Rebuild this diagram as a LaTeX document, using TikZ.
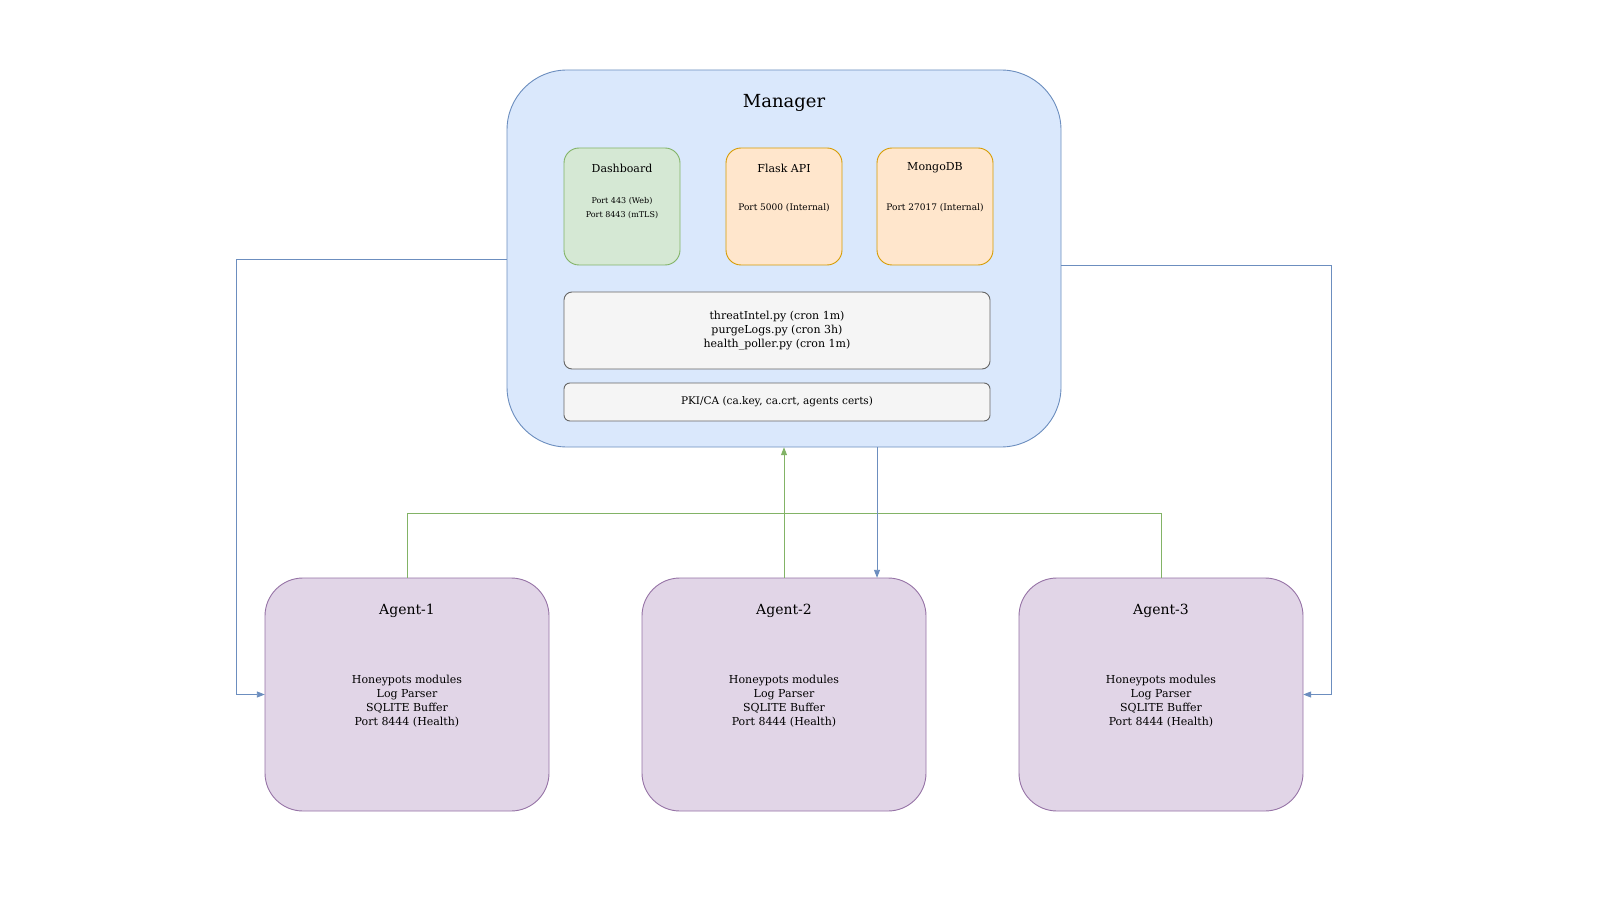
\documentclass[tikz,border=0pt]{standalone}
\usepackage{fontspec}
\setmainfont{DejaVu Serif}
\usetikzlibrary{arrows.meta}
\definecolor{bF}{HTML}{DAE8FC}\definecolor{bD}{HTML}{6C8EBF}
\definecolor{gF}{HTML}{D5E8D4}\definecolor{gD}{HTML}{82B366}
\definecolor{oF}{HTML}{FFE6CC}\definecolor{oD}{HTML}{D79B00}
\definecolor{hF}{HTML}{F5F5F5}\definecolor{hD}{HTML}{666666}
\definecolor{pF}{HTML}{E1D5E7}\definecolor{pD}{HTML}{9673A6}
\begin{document}
\begin{tikzpicture}[x=1pt,y=-1pt,
 box/.style={draw,line width=0.9pt,rounded corners=#1},
 lbl/.style={align=center,inner sep=0pt,text=black},
 con/.style={line width=0.9pt,-{Triangle[length=8pt,width=6pt]}}]
\path[fill=white] (0,0) rectangle (1601,901);
\useasboundingbox (0,0) rectangle (1601,901);
% manager
\draw[box=60pt,fill=bF,draw=bD] (507,70) rectangle (1061,447);
\node (mgr) at (784,258.5) [minimum width=554pt,minimum height=377pt,inner sep=0pt] {};
\node[lbl,font=\fontsize{18}{20}\selectfont] (mt) at (784,103) {Manager};
\foreach \n/\x/\f/\d in {dash/564/gF/gD,flask/726/oF/oD,mongo/877/oF/oD}
  \draw[box=15pt,fill=\f,draw=\d] (\x,148) rectangle ++(116,117);
\node[lbl,font=\fontsize{11}{12}\selectfont] (dt) at (622,168) {Dashboard};
\node[lbl,font=\fontsize{8}{13.5}\selectfont] (dp) at (622,208) {Port 443 (Web)\\Port 8443 (mTLS)};
\node[lbl,font=\fontsize{11}{12}\selectfont] (ft) at (784,168) {Flask API};
\node[lbl,font=\fontsize{9}{12}\selectfont] (fp) at (784,208) {Port 5000 (Internal)};
\node[lbl,font=\fontsize{11}{12}\selectfont] (mot) at (935,168) {MongoDB};
\node[lbl,font=\fontsize{9}{12}\selectfont] (mp) at (935,208) {Port 27017 (Internal)};
\draw[box=8pt,fill=hF,draw=hD] (564,292) rectangle (990,369);
\node[lbl,font=\fontsize{11}{14}\selectfont] (cron) at (777,330.5) {threatIntel.py (cron 1m)\\purgeLogs.py (cron 3h)\\health\_poller.py (cron 1m)};
\draw[box=6pt,fill=hF,draw=hD] (564,383) rectangle (990,421);
\node[lbl,font=\fontsize{10.5}{12}\selectfont] (pki) at (777,402) {PKI/CA (ca.key, ca.crt, agents certs)};
% agents
\foreach \i/\x in {1/265,2/642,3/1019}{
  \draw[box=38pt,fill=pF,draw=pD] (\x,578) rectangle ++(284,233);
  \node (a\i) at (\x+142,694.5) [minimum width=284pt,minimum height=233pt,inner sep=0pt] {};
  \node[lbl,font=\fontsize{14}{15}\selectfont] (at\i) at (\x+142,611) {Agent-\i};
  \node[lbl,font=\fontsize{11}{14}\selectfont] (ab\i) at (\x+142,701) {Honeypots modules\\Log Parser\\SQLITE Buffer\\Port 8444 (Health)};
}
% connectors
\draw[gD,line width=0.9pt] (a1.north) |- (1161,513) -- (a3.north);
\draw[gD,con] (a2.north) -- (mgr.south);
\draw[bD,con] (mgr.south -| 877,0) -- (a2.north -| 877,0);
\draw[bD,con] (mgr.west |- 0,259) -- (236,259) |- (a1.west);
\draw[bD,con] (mgr.east |- 0,265) -- (1331,265) |- (a3.east);
\end{tikzpicture}
\end{document}
